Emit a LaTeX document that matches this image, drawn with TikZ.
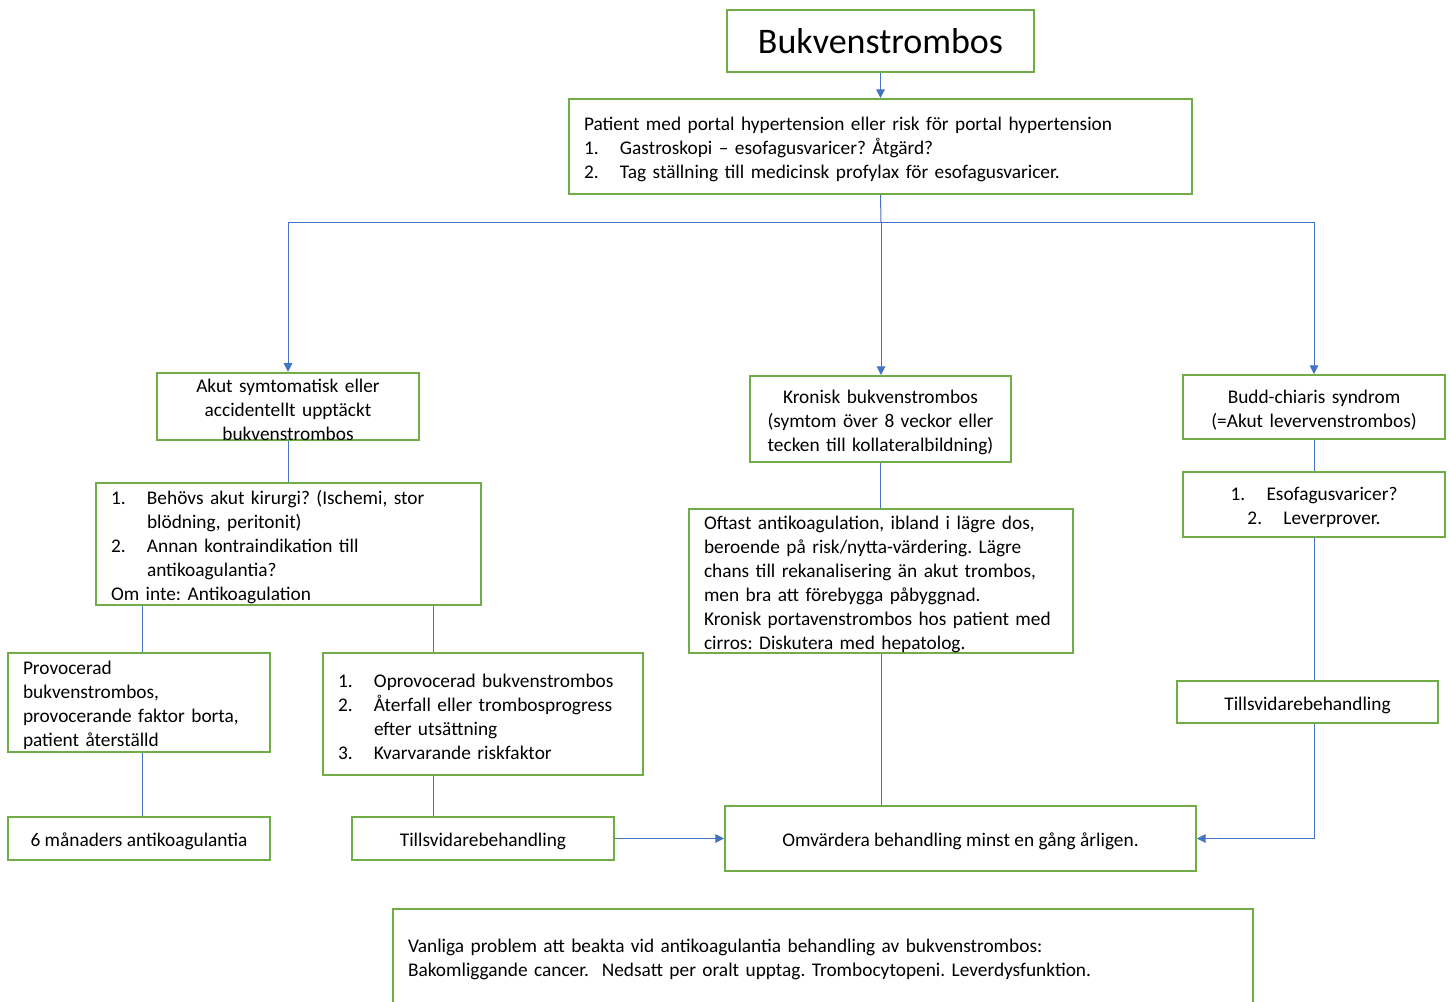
\documentclass[tikz,border=0pt]{standalone}
\usepackage{fontspec}
\setmainfont{Carlito}
\usetikzlibrary{arrows.meta,calc}
\definecolor{boxgreen}{HTML}{70AD47}
\definecolor{lineblue}{HTML}{4472C4}
\newcommand{\numit}[1]{\makebox[27pt][l]{#1}}
\newcommand{\contit}{\hspace*{27pt}}
\newcommand{\topstrut}{\rule{0pt}{14.5pt}}
\frenchspacing
\begin{document}
\frenchspacing
\begin{tikzpicture}[x=0.75pt,y=-0.75pt,
  box/.style={draw=boxgreen,line width=1.5pt,inner sep=0pt,fill=white,
    font=\fontsize{14.5pt}{18pt}\selectfont\frenchspacing,align=center},
  lbox/.style={box,align=left},
  conn/.style={draw=lineblue,line width=0.75pt},
  arr/.style={conn,-{Triangle[length=6.5pt,width=6.5pt]}}]
\useasboundingbox (0,0) rectangle (1450,1001);
\clip (0,0) rectangle (1450,1001);
\fill[white] (0,0) rectangle (1450,1001);

\node[box,minimum width=230.25pt,minimum height=46.5pt,font=\fontsize{27pt}{32pt}\selectfont] (title) at (880.5,41) {Bukvenstrombos};

\node[lbox,minimum width=467.25pt,minimum height=71.25pt,text width=444.75pt] (patient) at (880.5,146.5)
 {\topstrut Patient med portal hypertension eller risk för portal hypertension\\
  \numit{1.}Gastroskopi – esofagusvaricer? Åtgärd?\\
  \numit{2.}Tag ställning till medicinsk profylax för esofagusvaricer.};

\node[box,minimum width=196.5pt,minimum height=50.25pt,text width=188pt] (akut) at (288,406.5)
 {\topstrut Akut symtomatisk eller\\accidentellt upptäckt\\bukvenstrombos};

\node[box,minimum width=195.75pt,minimum height=64.5pt,text width=190pt] (kronisk) at (880.5,419)
 {\topstrut Kronisk bukvenstrombos\\(symtom över 8 veckor eller\\tecken till kollateralbildning)};

\node[box,minimum width=196.5pt,minimum height=48pt,text width=190pt] (budd) at (1314,407)
 {\topstrut Budd-chiaris syndrom\\(=Akut levervenstrombos)};

\node[lbox,minimum width=288.75pt,minimum height=91.5pt,text width=266.25pt] (behovs) at (288.5,544)
 {\topstrut\numit{1.}Behövs akut kirurgi? (Ischemi, stor\\
  \contit blödning, peritonit)\\
  \numit{2.}Annan kontraindikation till\\
  \contit antikoagulantia?\\
  Om inte: Antikoagulation};

\node[lbox,minimum width=288pt,minimum height=108pt,text width=265.5pt] (oftast) at (881,581)
 {\topstrut Oftast antikoagulation, ibland i lägre dos,\\
  beroende på risk/nytta-värdering. Lägre\\
  chans till rekanalisering än akut trombos,\\
  men bra att förebygga påbyggnad.\\
  Kronisk portavenstrombos hos patient med\\
  cirros: Diskutera med hepatolog.};

\node[box,minimum width=196.5pt,minimum height=48.75pt,text width=190pt] (esof) at (1314,504.5)
 {\topstrut\numit{1.}Esofagusvaricer?\\\numit{2.}Leverprover.};

\node[lbox,minimum width=196.5pt,minimum height=74.25pt,text width=174pt] (provoc) at (139,702.5)
 {\topstrut Provocerad\\bukvenstrombos,\\provocerande faktor borta,\\patient återställd};

\node[lbox,minimum width=240pt,minimum height=91.5pt,text width=217.5pt] (oprov) at (483,714)
 {\topstrut\numit{1.}Oprovocerad bukvenstrombos\\
  \numit{2.}Återfall eller trombosprogress\\
  \contit efter utsättning\\
  \numit{3.}Kvarvarande riskfaktor};

\node[box,minimum width=195.75pt,minimum height=31.5pt] (tillsR) at (1307.5,702) {\topstrut Tillsvidarebehandling};
\node[box,minimum width=196.5pt,minimum height=32.25pt] (sexm) at (139,838.5) {\topstrut 6 månaders antikoagulantia};
\node[box,minimum width=196.5pt,minimum height=32.25pt] (tillsL) at (483,838.5) {\topstrut Tillsvidarebehandling};
\node[box,minimum width=353.25pt,minimum height=48.75pt] (omv) at (960.5,838.5) {\topstrut Omvärdera behandling minst en gång årligen.};

\node[lbox,minimum width=645pt,minimum height=75.75pt,text width=622.5pt] (bottom) at (823,959.5)
 {Vanliga problem att beakta vid antikoagulantia behandling av bukvenstrombos:\\
  Bakomliggande cancer.\ \ Nedsatt per oralt upptag. Trombocytopeni. Leverdysfunktion.};

\coordinate (hub) at (881,222);
\draw[arr] (title.south) -- (patient.north);
\draw[conn] (patient.south) -- (hub);
\draw[arr] (hub) -| (akut.north);
\draw[arr] (hub) -- (hub |- kronisk.north);
\draw[arr] (hub) -| (budd.north);
\draw[conn] (akut.south) -- (akut.south |- behovs.north);
\draw[conn] ([xshift=2.25pt]provoc.north |- behovs.south) -- ([xshift=2.25pt]provoc.north);
\draw[conn] ([xshift=-37.5pt]oprov.north |- behovs.south) -- ([xshift=-37.5pt]oprov.north);
\draw[conn] ([xshift=2.25pt]provoc.south) -- ([xshift=2.25pt]sexm.north);
\draw[conn] ([xshift=-37.5pt]oprov.south) -- ([xshift=-37.5pt]tillsL.north);
\draw[arr] (tillsL.east) -- (omv.west);
\draw[conn] (kronisk.south) -- (kronisk.south |- oftast.north);
\draw[conn] (oftast.south) -- (oftast.south |- omv.north);
\draw[conn] (budd.south) -- (esof.north);
\draw[conn] (esof.south) -- (esof.south |- tillsR.north);
\draw[arr] (esof.south |- tillsR.south) |- (omv.east);
\end{tikzpicture}
\end{document}
